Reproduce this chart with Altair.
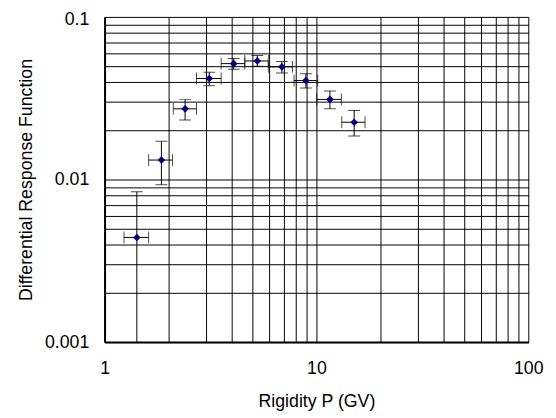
import altair as alt
import pandas as pd

rigidity = [1.42, 1.855, 2.40, 3.12, 4.07, 5.26, 6.87, 8.92, 11.58, 15.07]
rig_lo = [1.235, 1.614, 2.11, 2.716, 3.55, 4.59, 5.93, 7.84, 10.03, 13.17]
rig_hi = [1.614, 2.094, 2.716, 3.55, 4.59, 5.93, 7.71, 10.14, 13.12, 16.96]
response = [0.00440, 0.01317, 0.0272, 0.0418, 0.0516, 0.0536, 0.0493, 0.0406, 0.0311, 0.0225]
resp_lo = [0.00095, 0.00929, 0.0232, 0.0377, 0.0477, 0.0498, 0.0452, 0.0365, 0.0272, 0.0185]
resp_hi = [0.0084, 0.01716, 0.0311, 0.0456, 0.0555, 0.0578, 0.0531, 0.0447, 0.035, 0.0266]

x_ticks = [1, 2, 3, 4, 5, 6, 7, 8, 9, 10, 20, 30, 40, 50, 60, 70, 80, 90, 100]
y_ticks = [0.001, 0.002, 0.003, 0.004, 0.005, 0.006, 0.007, 0.008, 0.009,
           0.01, 0.02, 0.03, 0.04, 0.05, 0.06, 0.07, 0.08, 0.09, 0.1]

df = pd.DataFrame({
    "x": rigidity, "xlo": rig_lo, "xhi": rig_hi,
    "y": response, "ylo": resp_lo, "yhi": resp_hi,
})

FONT = "Liberation Sans"
decade = "abs(log(datum.value)/LN10 - round(log(datum.value)/LN10)) < 1e-6 ? format(datum.value, '~g') : ''"

xscale = alt.Scale(type="log", domain=[1, 100])
yscale = alt.Scale(type="log", domain=[0.001, 0.1])

xaxis = alt.Axis(values=x_ticks, labelExpr=decade, grid=True, gridColor="black",
                 gridOpacity=1, gridWidth=1, ticks=False, tickSize=0,
                 domainColor="black", domainWidth=2, labelFont=FONT, labelFontSize=18,
                 labelColor="black", labelPadding=18, titleFont=FONT, titleFontSize=18,
                 titleFontWeight="normal", titleColor="black", titlePadding=15,
                 labelFlush=False, labelOverlap=False)
yaxis = alt.Axis(values=y_ticks, labelExpr=decade, grid=True, gridColor="black",
                 gridOpacity=1, gridWidth=1, ticks=False, tickSize=0,
                 domainColor="black", domainWidth=2, labelFont=FONT, labelFontSize=18,
                 labelColor="black", labelPadding=16, titleFont=FONT, titleFontSize=18,
                 titleFontWeight="normal", titleColor="black", titlePadding=9,
                 labelOffset={"condition": {"test": "datum.value >= 0.09999", "value": 3}, "value": 0},
                 labelFlush=False, labelOverlap=False)

base = alt.Chart(df)

xerr = base.mark_rule(color="black", strokeWidth=1, clip=True).encode(
    x=alt.X("xlo:Q", scale=xscale, axis=xaxis, title="Rigidity P (GV)"),
    x2="xhi:Q",
    y=alt.Y("y:Q", scale=yscale, axis=yaxis, title="Differential Response Function"),
)
yerr = base.mark_rule(color="black", strokeWidth=1, clip=True).encode(
    x=alt.X("x:Q", scale=xscale), y=alt.Y("ylo:Q", scale=yscale), y2="yhi:Q"
)
xcap_lo = base.mark_tick(color="black", orient="vertical", size=12, thickness=1, clip=True).encode(
    x=alt.X("xlo:Q", scale=xscale), y=alt.Y("y:Q", scale=yscale))
xcap_hi = base.mark_tick(color="black", orient="vertical", size=12, thickness=1, clip=True).encode(
    x=alt.X("xhi:Q", scale=xscale), y=alt.Y("y:Q", scale=yscale))
ycap_lo = base.mark_tick(color="black", orient="horizontal", size=12, thickness=1, clip=True).encode(
    x=alt.X("x:Q", scale=xscale), y=alt.Y("ylo:Q", scale=yscale))
ycap_hi = base.mark_tick(color="black", orient="horizontal", size=12, thickness=1, clip=True).encode(
    x=alt.X("x:Q", scale=xscale), y=alt.Y("yhi:Q", scale=yscale))
pts = base.mark_point(shape="diamond", filled=True, color="#000080", size=60, opacity=1).encode(
    x=alt.X("x:Q", scale=xscale), y=alt.Y("y:Q", scale=yscale))

chart = alt.layer(xerr, yerr, xcap_lo, xcap_hi, ycap_lo, ycap_hi, pts).properties(
    width=430, height=330,
    autosize=alt.AutoSizeParams(type="none"),
    padding={"left": 98, "top": 6, "right": 20, "bottom": 74},
    background="white",
).configure_view(stroke=None)

chart.save("out.html", embed_options={"renderer": "svg", "actions": False})
